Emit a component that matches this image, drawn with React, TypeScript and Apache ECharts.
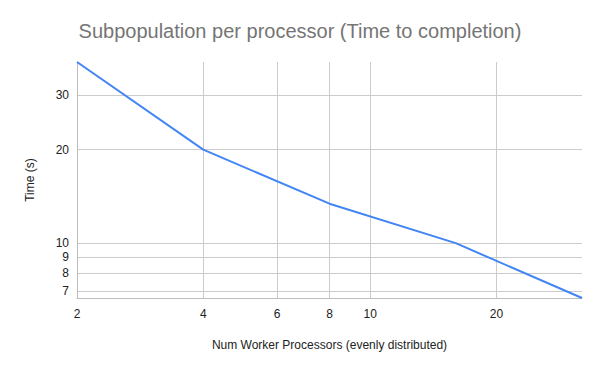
import React, { useEffect, useRef } from "react";
import * as echarts from "echarts";

const workers = [2, 4, 8, 16, 32];
const times = [38.3, 20, 13.4, 10, 6.66];
const xTicks = [2, 4, 6, 8, 10, 20];
const yTicks = [7, 8, 9, 10, 20, 30];

export default function App() {
  const ref = useRef<HTMLDivElement>(null);
  useEffect(() => {
    if (!ref.current) return;
    const chart = echarts.init(ref.current, null, { renderer: "svg" });
    const font = "Arial, 'Liberation Sans', sans-serif";
    chart.setOption({
      animation: false,
      title: {
        text: "Subpopulation per processor (Time to completion)",
        left: "center",
        top: 16,
        textStyle: { color: "#757575", fontSize: 20, fontWeight: "normal", fontFamily: font },
      },
      grid: { left: 77, right: 18, top: 62, bottom: 73, containLabel: false },
      xAxis: {
        type: "log",
        logBase: 2,
        min: 2,
        max: 32,
        name: "Num Worker Processors (evenly distributed)",
        nameLocation: "middle",
        nameGap: 41,
        nameTextStyle: { color: "#222", fontSize: 12, fontFamily: font },
        axisLine: { show: true, lineStyle: { color: "#bdbdbd", width: 1 } },
        axisTick: { show: false, customValues: xTicks },
        axisLabel: { customValues: xTicks, color: "#222", fontSize: 12, fontFamily: font, margin: 10 },
        splitLine: { show: true, lineStyle: { color: "#cccccc", width: 1 } },
      },
      yAxis: {
        type: "log",
        logBase: 2,
        min: 6.66,
        max: 38.3,
        name: "Time (s)",
        nameLocation: "middle",
        nameGap: 41,
        nameRotate: 90,
        nameTextStyle: { color: "#222", fontSize: 12, fontFamily: font },
        axisLine: { show: true, lineStyle: { color: "#bdbdbd", width: 1 } },
        axisTick: { show: false, customValues: yTicks },
        axisLabel: { customValues: yTicks, color: "#222", fontSize: 12, fontFamily: font, margin: 8 },
        splitLine: { show: true, lineStyle: { color: "#cccccc", width: 1 } },
      },
      series: [
        {
          type: "line",
          data: workers.map((w, i) => [w, times[i]]),
          symbol: "none",
          lineStyle: { color: "#4285F4", width: 2 },
          itemStyle: { color: "#4285F4" },
        },
      ],
    });
    return () => chart.dispose();
  }, []);
  return <div ref={ref} style={{ width: 600, height: 371, margin: -8 }} />;
}
